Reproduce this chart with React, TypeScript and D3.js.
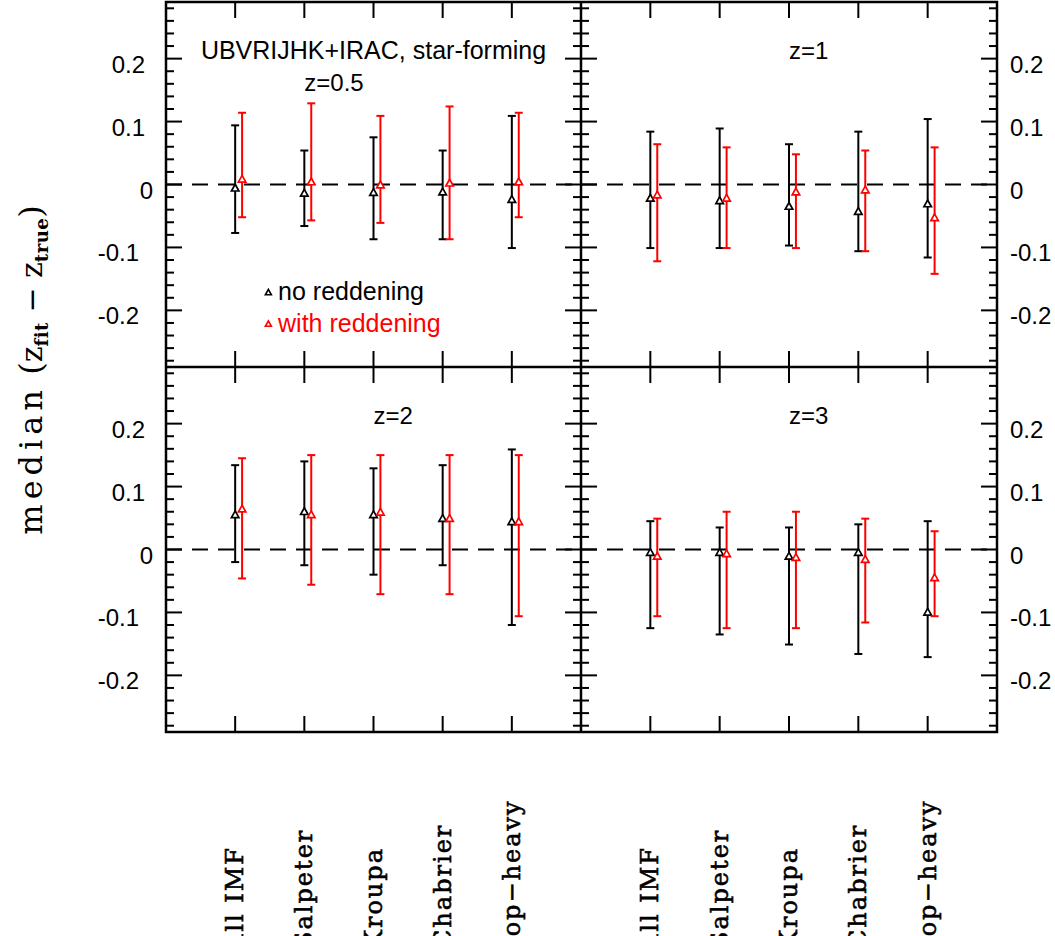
import React from "react";
import * as d3 from "d3";

const categories = ["all IMF", "Salpeter", "Kroupa", "Chabrier", "top\u2212heavy"];
const yTickLabels = [0.2, 0.1, 0, -0.1, -0.2];

// z = 0.5
const z05BlackMed = [-0.005, -0.013, -0.012, -0.011, -0.023];
const z05BlackLo = [-0.077, -0.066, -0.087, -0.087, -0.101];
const z05BlackHi = [0.094, 0.054, 0.075, 0.054, 0.109];
const z05RedMed = [0.009, 0.005, 0.0, 0.003, 0.005];
const z05RedLo = [-0.052, -0.057, -0.061, -0.087, -0.052];
const z05RedHi = [0.114, 0.129, 0.109, 0.124, 0.114];
// z = 1
const z1BlackMed = [-0.021, -0.025, -0.034, -0.042, -0.03];
const z1BlackLo = [-0.101, -0.101, -0.097, -0.106, -0.116];
const z1BlackHi = [0.084, 0.089, 0.064, 0.084, 0.104];
const z1RedMed = [-0.016, -0.021, -0.011, -0.008, -0.052];
const z1RedLo = [-0.122, -0.101, -0.101, -0.106, -0.142];
const z1RedHi = [0.064, 0.059, 0.048, 0.054, 0.059];
// z = 2
const z2BlackMed = [0.056, 0.061, 0.056, 0.05, 0.045];
const z2BlackLo = [-0.02, -0.025, -0.04, -0.025, -0.12];
const z2BlackHi = [0.134, 0.14, 0.129, 0.134, 0.159];
const z2RedMed = [0.065, 0.056, 0.06, 0.05, 0.045];
const z2RedLo = [-0.046, -0.056, -0.071, -0.071, -0.106];
const z2RedHi = [0.145, 0.15, 0.15, 0.15, 0.15];
// z = 3
const z3BlackMed = [-0.004, -0.004, -0.01, -0.004, -0.099];
const z3BlackLo = [-0.125, -0.135, -0.151, -0.166, -0.171];
const z3BlackHi = [0.045, 0.035, 0.035, 0.04, 0.045];
const z3RedMed = [-0.01, -0.006, -0.012, -0.015, -0.044];
const z3RedLo = [-0.106, -0.125, -0.125, -0.116, -0.106];
const z3RedHi = [0.049, 0.06, 0.06, 0.049, 0.029];

const panelLabels = ["z=0.5", "z=1", "z=2", "z=3"];
const legendLabels = ["no reddening", "with reddening"];
const titleText = "UBVRIJHK+IRAC, star-forming";

const RED = "#ff0000";
const SANS = "'Liberation Sans', Arial, Helvetica, sans-serif";
const SERIF = "'DejaVu Serif', serif";

type Series = { med: number[]; lo: number[]; hi: number[] };

interface PanelDef {
  x0: number; x1: number; y0: number; y1: number;
  black: Series; red: Series;
  label: string; labelX: number; labelY: number;
  side: "left" | "right";
  title?: boolean; legend?: boolean;
}

const L = 166, M = 581, R = 997, T = 2, H = 367, B = 732;

const panels: PanelDef[] = [
  { x0: L, x1: M, y0: T, y1: H, black: { med: z05BlackMed, lo: z05BlackLo, hi: z05BlackHi }, red: { med: z05RedMed, lo: z05RedLo, hi: z05RedHi }, label: panelLabels[0], labelX: 2, labelY: 0.149, side: "left", title: true, legend: true },
  { x0: M, x1: R, y0: T, y1: H, black: { med: z1BlackMed, lo: z1BlackLo, hi: z1BlackHi }, red: { med: z1RedMed, lo: z1RedLo, hi: z1RedHi }, label: panelLabels[1], labelX: 3, labelY: 0.2, side: "right" },
  { x0: L, x1: M, y0: H, y1: B, black: { med: z2BlackMed, lo: z2BlackLo, hi: z2BlackHi }, red: { med: z2RedMed, lo: z2RedLo, hi: z2RedHi }, label: panelLabels[2], labelX: 3, labelY: 0.2, side: "left" },
  { x0: M, x1: R, y0: H, y1: B, black: { med: z3BlackMed, lo: z3BlackLo, hi: z3BlackHi }, red: { med: z3RedMed, lo: z3RedLo, hi: z3RedHi }, label: panelLabels[3], labelX: 3, labelY: 0.2, side: "right" },
];

const triPath = (cx: number, cy: number, s: number) => {
  const h = s * 0.9;
  return `M${cx},${cy - h / 2}L${cx + s / 2},${cy + h / 2}L${cx - s / 2},${cy + h / 2}Z`;
};

function ErrSeries({ s, x, y, dx, color }: { s: Series; x: d3.ScaleLinear<number, number>; y: d3.ScaleLinear<number, number>; dx: number; color: string }) {
  return (
    <g stroke={color} fill="none">
      {s.med.map((m, i) => {
        const cx = x(i + 1 + dx);
        return (
          <g key={i}>
            <line x1={cx} x2={cx} y1={y(s.lo[i])} y2={y(s.hi[i])} strokeWidth={2} />
            <line x1={cx - 4} x2={cx + 4} y1={y(s.lo[i])} y2={y(s.lo[i])} strokeWidth={2} />
            <line x1={cx - 4} x2={cx + 4} y1={y(s.hi[i])} y2={y(s.hi[i])} strokeWidth={2} />
            <path d={triPath(cx, y(m), 7.5)} strokeWidth={1.7} fill="white" />
          </g>
        );
      })}
    </g>
  );
}

function Panel({ p }: { p: PanelDef }) {
  const x = d3.scaleLinear().domain([0, 6]).range([p.x0, p.x1]);
  const y = d3.scaleLinear().domain([-0.29, 0.29]).range([p.y1, p.y0]);
  const minor = d3.range(-14, 15).map((k) => k * 0.02);
  const ticks: React.ReactNode[] = [];
  minor.forEach((v, k) => {
    const isMajor = Math.abs(Math.round(v * 10) - v * 10) < 1e-6;
    const len = isMajor ? 16 : 8;
    const yy = y(v);
    ticks.push(<line key={"l" + k} x1={p.x0} x2={p.x0 + len} y1={yy} y2={yy} />);
    ticks.push(<line key={"r" + k} x1={p.x1} x2={p.x1 - len} y1={yy} y2={yy} />);
  });
  categories.forEach((_, i) => {
    const xx = x(i + 1);
    ticks.push(<line key={"t" + i} x1={xx} x2={xx} y1={p.y0} y2={p.y0 + 16} />);
    ticks.push(<line key={"b" + i} x1={xx} x2={xx} y1={p.y1} y2={p.y1 - 16} />);
  });
  return (
    <g>
      <line x1={p.x0} x2={p.x1} y1={y(0)} y2={y(0)} stroke="black" strokeWidth={1.8} strokeDasharray="16,10" />
      <g stroke="black" strokeWidth={2}>{ticks}</g>
      <ErrSeries s={p.black} x={x} y={y} dx={0} color="black" />
      <ErrSeries s={p.red} x={x} y={y} dx={0.1} color={RED} />
      <g fontFamily={SANS} fontSize={24} fill="black">
        {yTickLabels.map((v) =>
          p.side === "left" ? (
            <text key={v} x={145 + (v === 0 ? 8 : v < 0 ? -6 : 0)} y={y(v) + 5.5} textAnchor="end" dominantBaseline="central">{String(v)}</text>
          ) : (
            <text key={v} x={1010} y={y(v) + 5.5} textAnchor="start" dominantBaseline="central">{String(v)}</text>
          )
        )}
        <text x={x(p.labelX)} y={y(p.labelY)} textAnchor="start">{p.label}</text>
        {p.title && <text x={x(3)} y={y(0.2)} textAnchor="middle" fontSize={25}>{titleText}</text>}
        {p.legend && (
          <g fontSize={25}>
            <path d={triPath(x(1.48), y(-0.171), 6)} stroke="black" strokeWidth={1.6} fill="none" />
            <text x={x(1.62)} y={y(-0.183)}>{legendLabels[0]}</text>
            <path d={triPath(x(1.48), y(-0.221), 6)} stroke={RED} strokeWidth={1.6} fill="none" />
            <text x={x(1.62)} y={y(-0.234)} fill={RED}>{legendLabels[1]}</text>
          </g>
        )}
      </g>
    </g>
  );
}

export default function App() {
  const xl = d3.scaleLinear().domain([0, 6]).range([L, M]);
  const xr = d3.scaleLinear().domain([0, 6]).range([M, R]);
  return (
    <svg width={1055} height={936} style={{ position: "absolute", left: 0, top: 0, background: "white" }}>
      <rect x={0} y={0} width={1055} height={936} fill="white" />
      {panels.map((p, i) => <Panel key={i} p={p} />)}
      <g stroke="black" strokeWidth={2.5} fill="none">
        <rect x={L} y={T} width={R - L} height={B - T} />
        <line x1={M} x2={M} y1={T} y2={B} />
        <line x1={L} x2={R} y1={H} y2={H} />
      </g>
      <g fontFamily={SERIF} fontSize={24} letterSpacing={2} fill="black" stroke="black" strokeWidth={0.6}>
        {[xl, xr].map((sc, j) =>
          categories.map((c, i) => (
            <text key={j + "-" + i} transform={`translate(${sc(i + 1)},948) rotate(-90)`} textAnchor="start" dominantBaseline="central">{c}</text>
          ))
        )}
      </g>
      <text transform="translate(42,370) rotate(-90)" textAnchor="middle" fontFamily={SERIF} fontSize={32} fill="black">
        <tspan letterSpacing={5}>median</tspan>
        <tspan letterSpacing={0}>{" ("}</tspan>
        <tspan fontSize={30}>z</tspan>
        <tspan fontSize={18} fontWeight="bold" dy={6} letterSpacing={0.5}>fit</tspan>
        <tspan fontSize={30} dy={-6}>{" \u2212 z"}</tspan>
        <tspan fontSize={18} fontWeight="bold" dy={6} letterSpacing={0.5}>true</tspan>
        <tspan dy={-6}>)</tspan>
      </text>
    </svg>
  );
}
